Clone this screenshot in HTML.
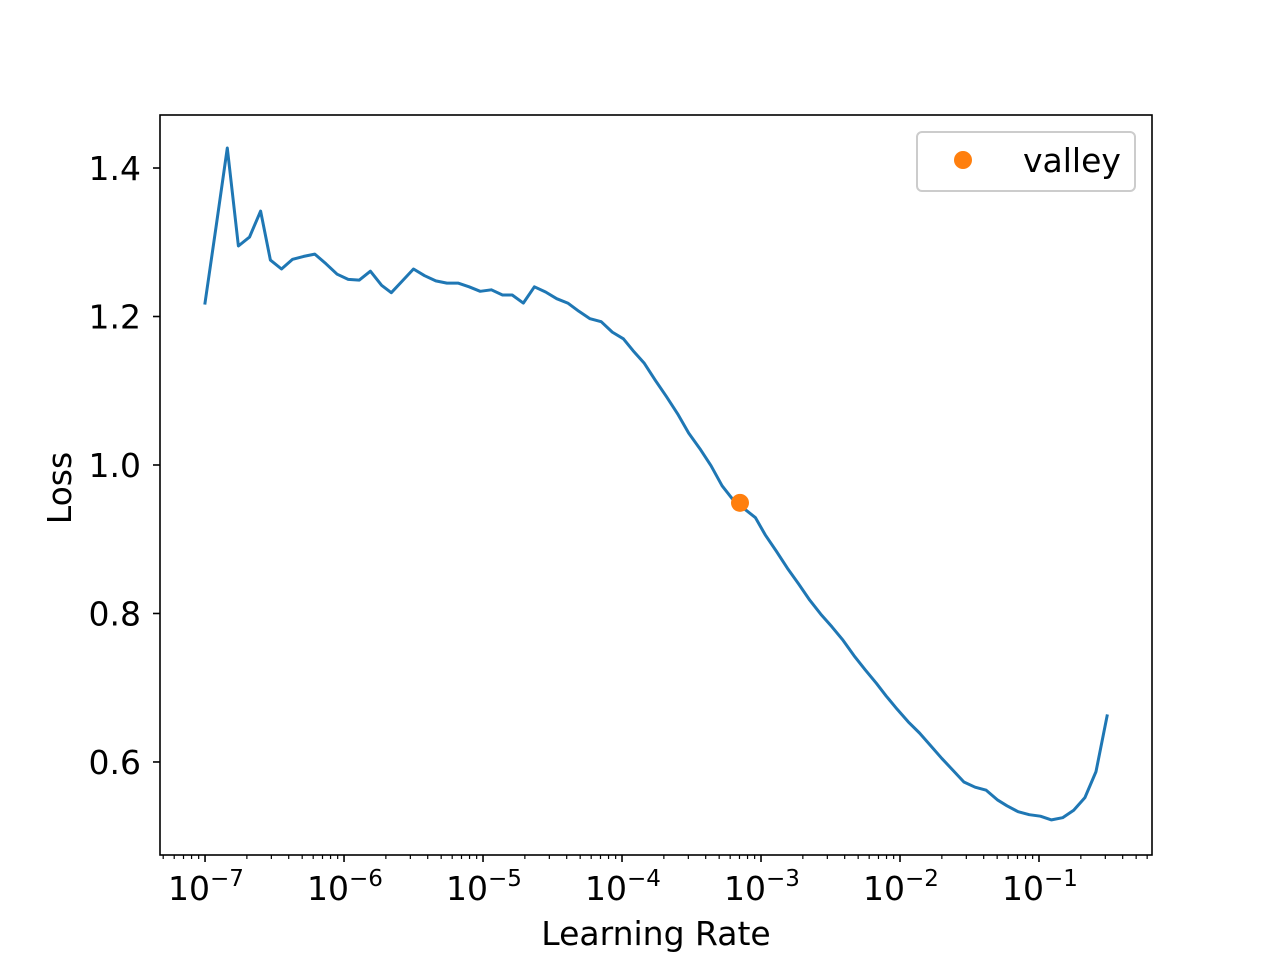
<!DOCTYPE html>
<html><head><meta charset="utf-8"><style>
body{margin:0;background:#fff}
svg text{font-family:"DejaVu Sans","Liberation Sans",sans-serif;fill:#000}
</style></head><body>
<svg id="chart" width="1280" height="960" xmlns="http://www.w3.org/2000/svg">
<rect width="1280" height="960" fill="#fff"/>
<g id="plot"></g>
<text x="656" y="945" font-size="33" text-anchor="middle">Learning Rate</text>
<text transform="translate(71,488) rotate(-90)" font-size="33" text-anchor="middle">Loss</text>
<g>
<rect x="917" y="132" width="218" height="59" rx="5" fill="#fff" fill-opacity="0.8" stroke="#ccc" stroke-width="2"/>
<circle cx="963" cy="160" r="9" fill="#ff7f0e"/>
<text x="1023" y="172" font-size="33">valley</text>
</g>
</svg>
<script>
const lrExp=[-7.00,-6.92,-6.84,-6.76,-6.68,-6.60,-6.53,-6.45,-6.37,-6.29,-6.21,-6.13,-6.05,-5.97,-5.89,-5.81,-5.73,-5.66,-5.58,-5.50,-5.42,-5.34,-5.26,-5.18,-5.10,-5.02,-4.94,-4.86,-4.79,-4.71,-4.63,-4.55,-4.47,-4.39,-4.31,-4.23,-4.15,-4.07,-3.99,-3.92,-3.84,-3.76,-3.68,-3.60,-3.52,-3.44,-3.36,-3.28,-3.20,-3.12,-3.04,-2.97,-2.89,-2.81,-2.73,-2.65,-2.57,-2.49,-2.41,-2.33,-2.25,-2.17,-2.10,-2.02,-1.94,-1.86,-1.78,-1.70,-1.62,-1.54,-1.46,-1.38,-1.30,-1.23,-1.15,-1.07,-0.99,-0.91,-0.83,-0.75,-0.67,-0.59,-0.51];
const losses=[1.218,1.322,1.427,1.295,1.307,1.342,1.276,1.264,1.277,1.281,1.284,1.271,1.257,1.250,1.249,1.261,1.242,1.232,1.248,1.264,1.255,1.248,1.245,1.245,1.240,1.234,1.236,1.229,1.229,1.218,1.240,1.233,1.224,1.218,1.207,1.197,1.193,1.179,1.170,1.154,1.137,1.114,1.092,1.069,1.043,1.022,0.999,0.972,0.953,0.941,0.929,0.906,0.884,0.861,0.840,0.818,0.799,0.782,0.764,0.743,0.724,0.706,0.689,0.671,0.654,0.639,0.622,0.605,0.589,0.573,0.566,0.562,0.549,0.541,0.533,0.529,0.527,0.522,0.525,0.535,0.552,0.587,0.662];
const valleyLr=7.06e-4;
const valleyLoss=0.949;
const yTicks=[0.6,0.8,1.0,1.2,1.4];
const yTickLabels=["0.6","0.8","1.0","1.2","1.4"];
const xDecades=[-7,-6,-5,-4,-3,-2,-1];

const L=160,R=1152,T=115,B=855;
const xMin=-7.324,xMax=-0.187,yMin=0.4747,yMax=1.4714;
const X=e=>L+(e-xMin)/(xMax-xMin)*(R-L);
const Y=v=>B-(v-yMin)/(yMax-yMin)*(B-T);
const NS="http://www.w3.org/2000/svg";
const g=document.getElementById('plot');
function mk(tag,attrs){const el=document.createElementNS(NS,tag);for(const k in attrs)el.setAttribute(k,attrs[k]);g.appendChild(el);return el;}

let d=lrExp.map((e,i)=>(i?'L':'M')+X(e).toFixed(1)+','+Y(losses[i]).toFixed(1)).join(' ');
const line=mk('path',{d:d,fill:'none',stroke:'#1f77b4','stroke-width':3,'stroke-linejoin':'round','stroke-linecap':'square'});


const pt=mk('circle',{cx:X(Math.log10(valleyLr)),cy:Y(valleyLoss),r:9,fill:'#ff7f0e'});



const fr=mk('rect',{x:L,y:T,width:R-L,height:B-T,fill:'none',stroke:'#000','stroke-width':1.6});



yTicks.forEach((v,i)=>{
  const y=Y(v);
  const t=mk('line',{x1:L-7,x2:L,y1:y,y2:y,stroke:'#000','stroke-width':1.6});
  
  
  const tx=mk('text',{x:L-19,y:y+12,'font-size':33,'text-anchor':'end'});
  tx.textContent=yTickLabels[i];
  
  
});
for(let dec=-8;dec<=0;dec++){
  for(let m=1;m<10;m++){
    const e=dec+Math.log10(m);
    if(e<xMin||e>xMax)continue;
    const x=X(e);
    const major=m===1;
    const t=mk('line',{x1:x,x2:x,y1:B,y2:B+(major?7:4),stroke:'#000','stroke-width':major?1.6:1.2});
    
    
  }
}
xDecades.forEach(dec=>{
  const x=X(dec);
  const tx=mk('text',{x:x-37,y:900,'font-size':33});
  tx.innerHTML='10<tspan dy="-14" font-size="23">\u2212'+Math.abs(dec)+'</tspan>';
  
  
});
</script>
</body></html>
